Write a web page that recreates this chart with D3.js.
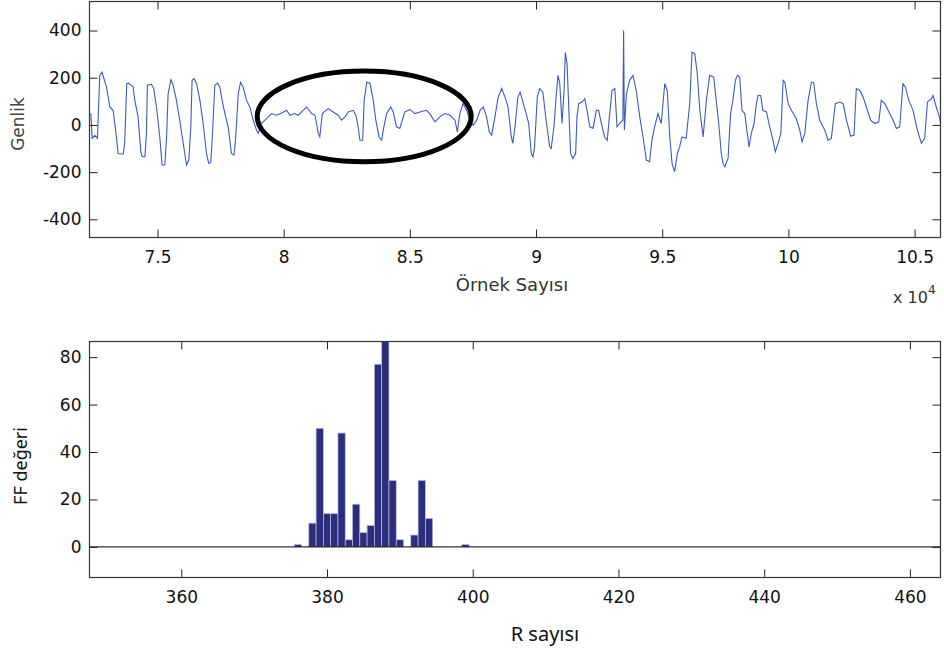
<!DOCTYPE html>
<html>
<head>
<meta charset="utf-8">
<script src="https://cdn.jsdelivr.net/npm/d3@7"></script>
<style>
  body { margin: 0; background: #fff; }
  text { font-family: "DejaVu Sans", "Liberation Sans", Arial, sans-serif; }
</style>
</head>
<body>
<div id="chart"></div>
<script>
// signal segment (sample number, amplitude)
const sampleNo = [
  72360, 72410, 72520, 72620, 72710, 72800, 72980, 73110, 73240, 73340, 73440, 73640, 73700, 73780, 73840,
  74030, 74100, 74230, 74340, 74390, 74500, 74560, 74600, 74760, 74850, 74960, 75090, 75180, 75290, 75360,
  75420, 75530, 75620, 75750, 75880, 76020, 76150, 76240, 76320, 76370, 76450, 76550, 76680, 76810, 76940,
  77030, 77110, 77180, 77270, 77380, 77470, 77560, 77670, 77800, 77930, 78030, 78090, 78200, 78290, 78390,
  78530, 78660, 78790, 78920, 78990, 79120, 79320, 79520, 79720, 79920, 80110, 80250, 80440, 80570, 80770,
  80910, 81110, 81240, 81370, 81430, 81530, 81760, 81960, 82160, 82290, 82430, 82560, 82750, 82860, 82950,
  83020, 83130, 83190, 83290, 83420, 83550, 83650, 83780, 83880, 83970, 84080, 84240, 84340, 84470, 84600,
  84800, 85000, 85200, 85400, 85660, 85790, 85990, 86190, 86390, 86590, 86790, 86880, 86980, 87110, 87250,
  87380, 87510, 87650, 87780, 87910, 88040, 88150, 88240, 88370, 88500, 88640, 88770, 88890, 89020, 89080,
  89180, 89280, 89370, 89480, 89610, 89710, 89810, 89880, 89940, 90050, 90140, 90270, 90400, 90540, 90600,
  90710, 90800, 90870, 90940, 91030, 91110, 91160, 91230, 91300, 91370, 91460, 91570, 91620, 91690, 91820,
  91930, 92020, 92130, 92260, 92390, 92480, 92590, 92720, 92820, 92920, 93010, 93120, 93210, 93310, 93440,
  93470, 93500, 93580, 93710, 93840, 93970, 94110, 94240, 94370, 94500, 94590, 94700, 94830, 94960, 95100,
  95200, 95300, 95390, 95490, 95600, 95690, 95780, 95950, 96090, 96180, 96290, 96390, 96490, 96620, 96750,
  96880, 97040, 97140, 97240, 97340, 97410, 97480, 97610, 97670, 97710, 97800, 97900, 97980, 98070, 98160,
  98270, 98370, 98440, 98530, 98640, 98730, 98800, 98900, 98990, 99130, 99260, 99390, 99480, 99590, 99700,
  99790, 99860, 99990, 100120, 100310, 100450, 100540, 100650, 100780, 100910, 101000, 101110, 101240, 101440, 101570,
  101700, 101770, 101860, 102040, 102170, 102300, 102470, 102600, 102690, 102830, 102960, 103090, 103260, 103420, 103580,
  103680, 103820, 103950, 104150, 104280, 104410, 104540, 104640, 104770, 104940, 105110, 105270, 105400, 105510, 105670,
  105730, 105860, 106000, 106060
];
const amplitude = [
  49, -57, -44, -57, 209, 224, 160, 76, 62, -22, -121, -124, -77, 175, 177,
  163, 104, 34, -114, -135, -135, -36, 168, 172, 154, 76, -51, -170, -170, -51,
  132, 192, 168, 104, 20, -78, -170, -149, -8, 189, 196, 175, 104, 6, -121,
  -163, -159, -36, 168, 177, 160, 104, 48, -8, -121, -128, -65, 132, 181, 160,
  104, 76, 20, -22, -36, 6, 27, 48, 41, 51, 62, 41, 48, 41, 62,
  76, 48, 41, -36, -51, 48, 69, 55, 41, 20, 34, 55, 62, 41, -8,
  -65, -65, 104, 181, 177, 104, 20, -51, -65, -8, 48, 76, 55, -8, -15,
  55, 65, 48, 55, 62, 48, 13, 34, 48, 41, 20, -30, 48, 90, 62,
  20, -1, 20, 62, 76, 34, -30, -43, 34, 118, 154, 118, 76, -51, -78,
  6, 118, 139, 97, 48, 6, -121, -135, -93, 118, 154, 139, 20, -93, -100,
  -8, 125, 210, 175, 6, 146, 308, 259, 62, -121, -142, -121, 34, 90, 97,
  111, 62, -8, -15, 62, 62, 6, -51, -65, 48, 146, 154, -8, 6, 20,
  400, -22, 132, 189, 210, 146, 34, -51, -149, -156, -65, -8, 48, 6, 175,
  146, -51, -163, -198, -121, -93, -51, -57, 90, 308, 301, 217, 62, -51, 104,
  210, 203, 104, 6, -121, -163, -177, -142, -22, 48, 104, 189, 210, 203, 62,
  48, -36, -93, -36, 6, 90, 125, 125, 62, 55, -8, -65, -114, -78, -36,
  189, 181, 90, 62, 27, -22, -72, -36, 104, 181, 181, 90, 20, -22, -65,
  -57, 6, 90, 97, 90, 20, -48, -43, 154, 146, 118, 76, 20, 6, 13,
  104, 90, 62, 20, -15, -8, 175, 160, 104, 62, -22, -78, -57, 97, 111,
  125, 76, 27, -15
];
const sampleTicks = [75000, 80000, 85000, 90000, 95000, 100000, 105000];
const genlikTicks = [-400, -200, 0, 200, 400];

// FF value per R count (bottom panel)
const rValues  = [376, 378, 379, 380, 381, 382, 383, 384, 385, 386, 387, 388, 389, 390, 392, 393, 394, 399];
const ffValues = [1, 10, 50, 14, 14, 48, 3, 18, 6, 9, 77, 87, 28, 3, 5, 28, 12, 1];
const rTicks  = [360, 380, 400, 420, 440, 460];
const ffTicks = [0, 20, 40, 60, 80];

// circled region (data units)
const mark = {sample: 83190, amp: 36, rxSamples: 4240, ryAmp: 192};

const width = 944, height = 655;
const tickLen = 8;

let svg = d3.select("#chart")
    .append("svg")
    .attr("width", width)
    .attr("height", height);

svg.append("rect").attr("width", width).attr("height", height).attr("fill", "#fff");

// panel boxes
const p1 = {left: 89.5, right: 940.5, top: 1.5, bottom: 237.5};
const p2 = {left: 89.5, right: 940.5, top: 341.5, bottom: 577.5};

// ---------- top panel ----------
let x1 = d3.scaleLinear().domain([72305, 106027]).range([p1.left, p1.right]);
let y1 = d3.scaleLinear().domain([-477, 523]).range([p1.bottom, p1.top]);

svg.append("clipPath").attr("id", "clip1")
  .append("rect")
    .attr("x", p1.left).attr("y", p1.top)
    .attr("width", p1.right - p1.left).attr("height", p1.bottom - p1.top);

const wave = sampleNo.map((s, i) => [s, amplitude[i]]);

svg.append("path")
    .datum(wave)
    .attr("clip-path", "url(#clip1)")
    .attr("fill", "none")
    .attr("stroke", "#3a5cbc")
    .attr("stroke-width", 1.1)
    .attr("d", d3.line().x(d => x1(d[0])).y(d => y1(d[1])));

svg.append("ellipse")
    .attr("cx", x1(mark.sample))
    .attr("cy", y1(mark.amp))
    .attr("rx", x1(mark.sample + mark.rxSamples) - x1(mark.sample))
    .attr("ry", y1(mark.amp) - y1(mark.amp + mark.ryAmp))
    .attr("fill", "none")
    .attr("stroke", "#000")
    .attr("stroke-width", 5);

// ---------- bottom panel ----------
let x2 = d3.scaleLinear().domain([347.4, 464.2]).range([p2.left, p2.right]);
let y2 = d3.scaleLinear().domain([-12.9, 86.6]).range([p2.bottom, p2.top]);

svg.append("clipPath").attr("id", "clip2")
  .append("rect")
    .attr("x", p2.left).attr("y", p2.top)
    .attr("width", p2.right - p2.left).attr("height", p2.bottom - p2.top);

svg.append("g")
    .attr("clip-path", "url(#clip2)")
  .selectAll("rect")
  .data(rValues.map((r, i) => ({r: r, ff: ffValues[i]})))
  .join("rect")
    .attr("x", d => x2(d.r - 0.5))
    .attr("width", d => x2(d.r + 0.5) - x2(d.r - 0.5))
    .attr("y", d => y2(d.ff))
    .attr("height", d => y2(0) - y2(d.ff))
    .attr("fill", "#2b2d7d")
    .attr("stroke", "#b9bbe0")
    .attr("stroke-width", 0.7);

// baseline at zero
svg.append("line")
    .attr("x1", p2.left).attr("x2", p2.right)
    .attr("y1", y2(0)).attr("y2", y2(0))
    .attr("stroke", "#000")
    .attr("stroke-width", 1);

// ---------- axes ----------
function drawAxes(x, y, p, xt, yt, xfmt) {
    const tickStyle = g => {
        g.select(".domain").remove();
        g.selectAll(".tick line").attr("stroke", "#222");
        g.selectAll(".tick text")
            .attr("fill", "#111")
            .style("font-family", "'DejaVu Sans', sans-serif")
            .style("font-size", "17px");
    };
    svg.append("g")
        .attr("transform", `translate(0,${p.bottom})`)
        .call(d3.axisBottom(x).tickValues(xt).tickFormat(xfmt).tickSize(-tickLen).tickPadding(13))
        .call(tickStyle);
    svg.append("g")
        .attr("transform", `translate(0,${p.top})`)
        .call(d3.axisTop(x).tickValues(xt).tickFormat("").tickSize(-tickLen))
        .call(tickStyle);
    svg.append("g")
        .attr("transform", `translate(${p.left},0)`)
        .call(d3.axisLeft(y).tickValues(yt).tickFormat(d => String(d)).tickSize(-tickLen).tickPadding(8))
        .call(tickStyle);
    svg.append("g")
        .attr("transform", `translate(${p.right},0)`)
        .call(d3.axisRight(y).tickValues(yt).tickFormat("").tickSize(-tickLen))
        .call(tickStyle);
    svg.append("rect")
        .attr("x", p.left).attr("y", p.top)
        .attr("width", p.right - p.left).attr("height", p.bottom - p.top)
        .attr("fill", "none")
        .attr("stroke", "#333")
        .attr("stroke-width", 1.2);
}

drawAxes(x1, y1, p1, sampleTicks, genlikTicks, d => String(d / 10000));
drawAxes(x2, y2, p2, rTicks, ffTicks, d => String(d));

// ---------- labels ----------
svg.append("text")
    .attr("x", 512).attr("y", 291)
    .attr("text-anchor", "middle")
    .attr("fill", "#333")
    .style("font-size", "18px")
    .text("Örnek Sayısı");

let mult = svg.append("text")
    .attr("x", 893).attr("y", 303)
    .attr("fill", "#333")
    .style("font-size", "16px");
mult.append("tspan").text("x 10");
mult.append("tspan").attr("dy", -9).style("font-size", "12px").text("4");

svg.append("text")
    .attr("transform", "translate(24,124) rotate(-90)")
    .attr("text-anchor", "middle")
    .attr("fill", "#444")
    .style("font-size", "17px")
    .text("Genlik");

svg.append("text")
    .attr("transform", "translate(27,466) rotate(-90)")
    .attr("text-anchor", "middle")
    .attr("fill", "#111")
    .style("font-family", "'Noto Sans', 'Open Sans', sans-serif")
    .style("font-size", "18px")
    .text("FF değeri");

svg.append("text")
    .attr("x", 545).attr("y", 641)
    .attr("text-anchor", "middle")
    .attr("fill", "#111")
    .style("font-family", "'Noto Sans', 'Open Sans', sans-serif")
    .style("font-size", "20px")
    .text("R sayısı");
</script>
</body>
</html>
